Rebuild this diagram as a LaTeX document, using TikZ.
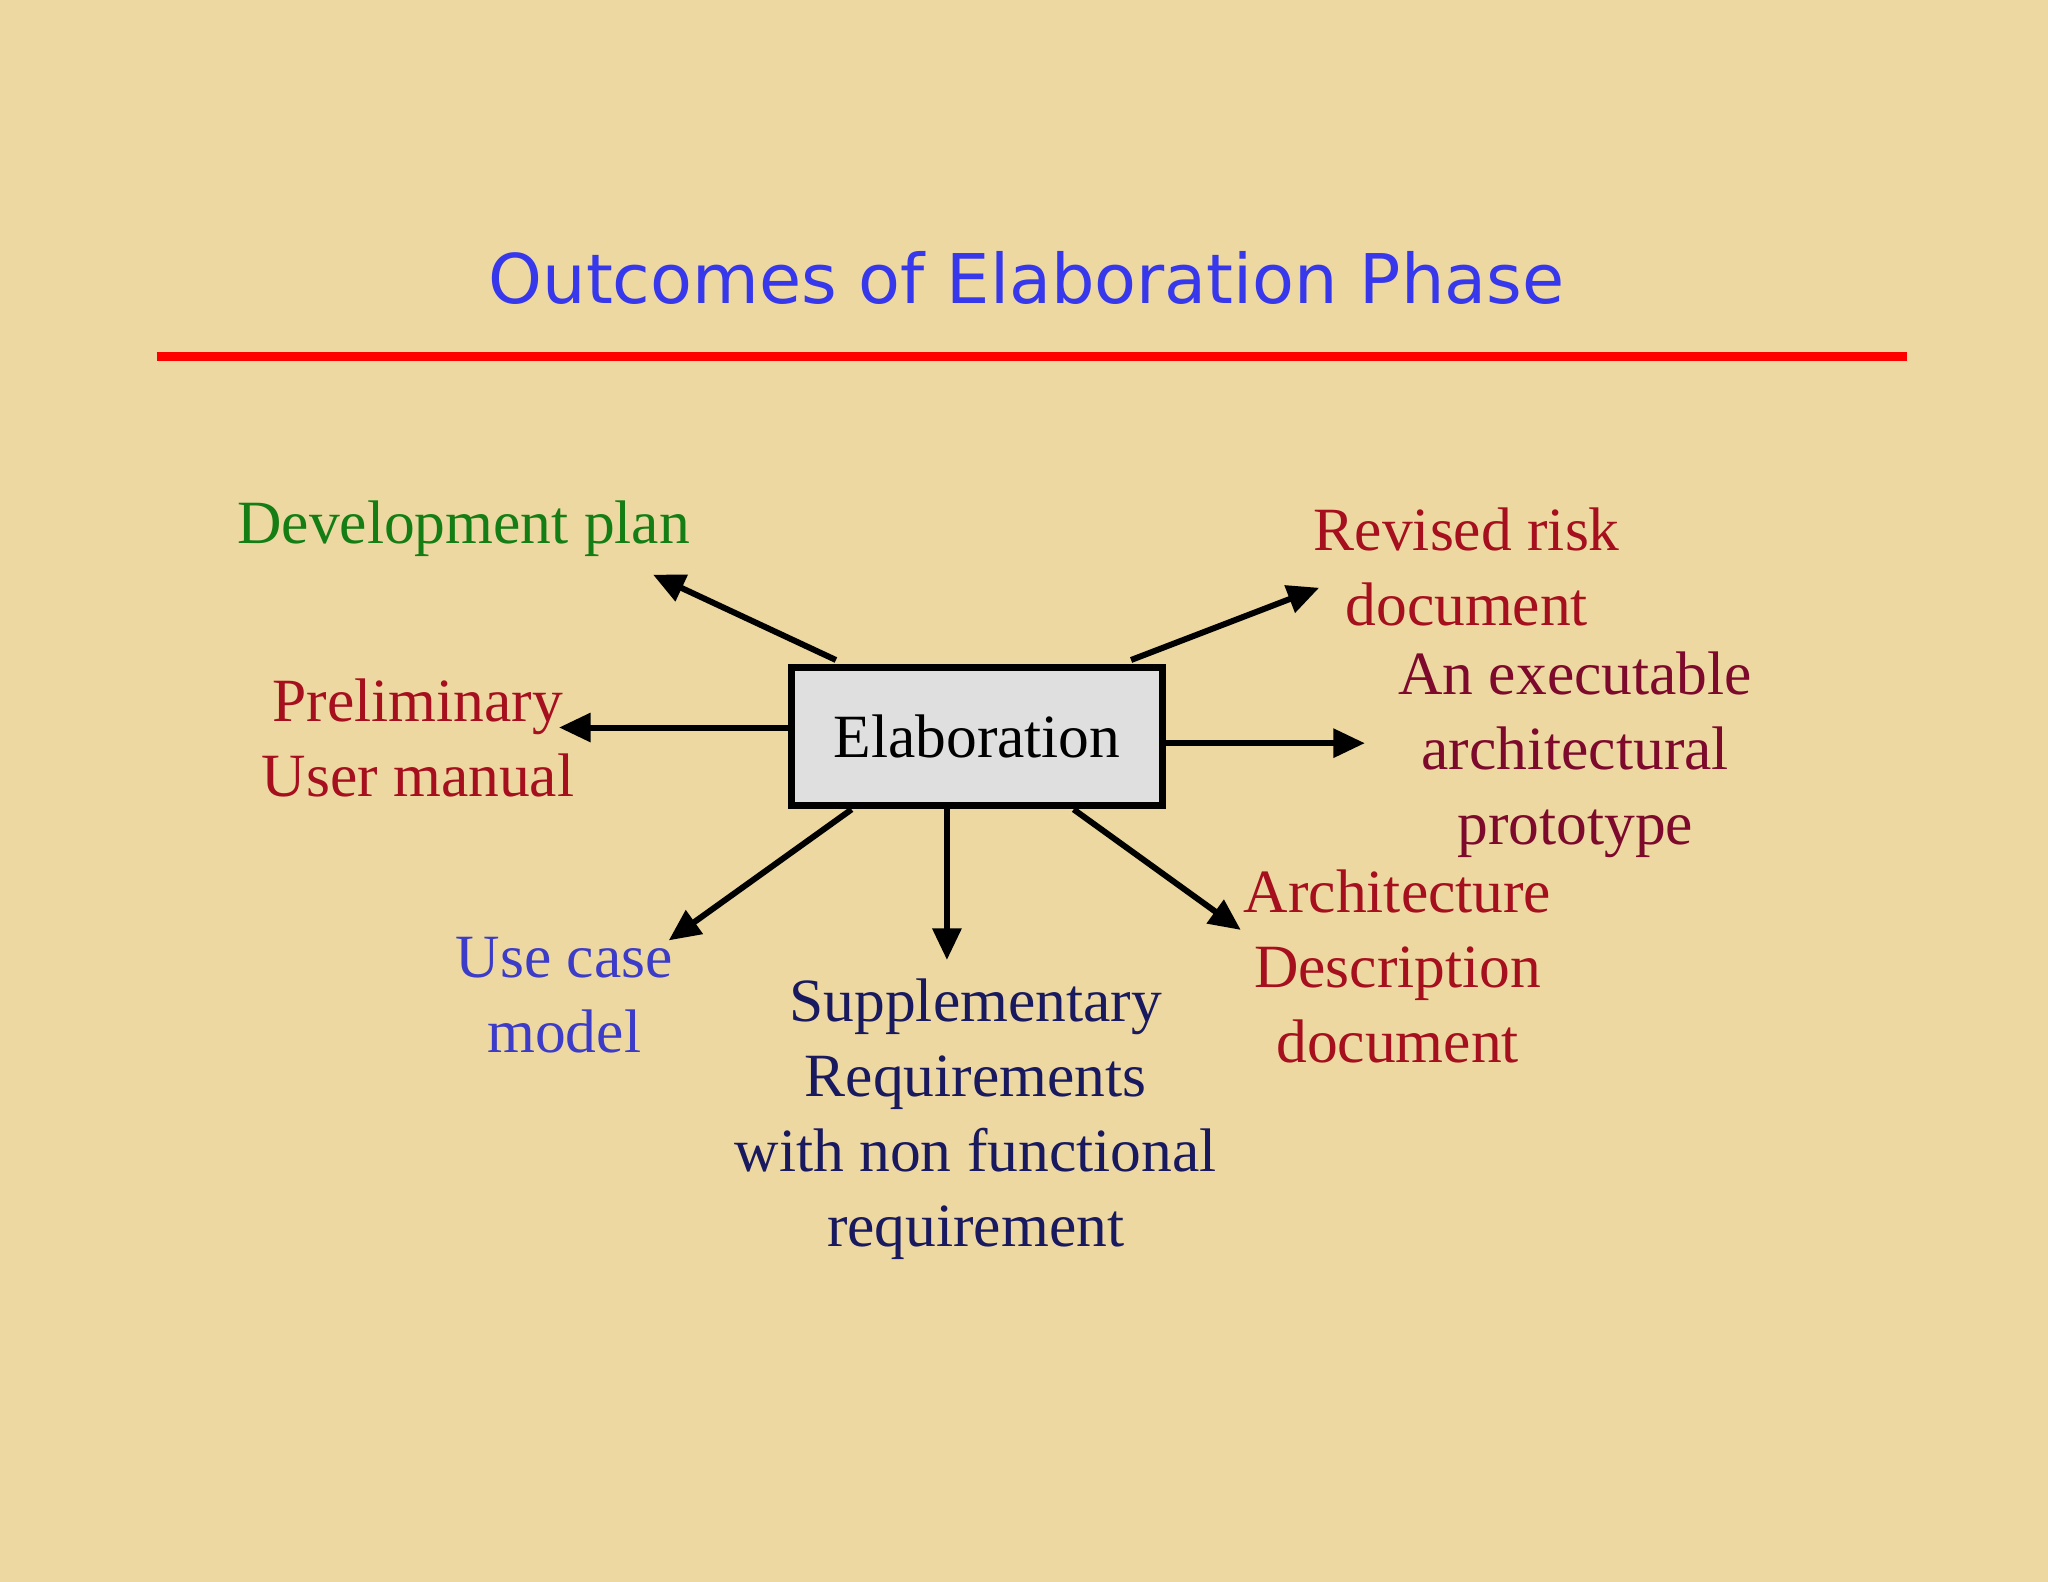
\documentclass[tikz,border=0pt]{standalone}
\usepackage{fontspec}
\setmainfont{Liberation Serif}
\newfontfamily\titlefont{DejaVu Sans}
\usetikzlibrary{arrows.meta}
\definecolor{bg}{RGB}{236,216,160}
\definecolor{tblue}{RGB}{55,55,235}
\definecolor{dgreen}{RGB}{20,125,20}
\definecolor{dred}{RGB}{165,15,30}
\definecolor{maroon}{RGB}{125,10,45}
\definecolor{ublue}{RGB}{60,60,200}
\definecolor{navy}{RGB}{25,25,95}
\begin{document}
\begin{tikzpicture}[x=0.01306cm,y=-0.01306cm,
  lbl/.style={align=center,font=\fontsize{17.5}{21.3}\selectfont,inner sep=0pt},
  arr/.style={-{Triangle[length=9pt,width=8pt]},line width=1.7pt}]
\fill[bg] (0,0) rectangle (1568,1211);
\useasboundingbox (0,0) rectangle (1568,1211);
\node[font=\titlefont\fontsize{19.5}{21}\selectfont,text=tblue] (title) at (786,213) {Outcomes of Elaboration Phase};
\draw[red,line width=2.6pt] (120,273) -- (1460,273);
\node[draw,line width=2pt,fill=gray!25,minimum width=284*0.01306cm,minimum height=106*0.01306cm,font=\fontsize{17.5}{20}\selectfont] (e) at (748,564) {Elaboration};
\node[lbl,text=dgreen] (dp) at (355,405) {Development plan};
\node[lbl,text=dred] (pum) at (320,565) {Preliminary\\User manual};
\node[lbl,text=ublue] (uc) at (432,762) {Use case\\model};
\node[lbl,text=navy] (sr) at (747,857) {Supplementary\\Requirements\\with non functional\\requirement};
\node[lbl,text=dred] (ad) at (1070,740) {Architecture\\Description\\document};
\node[lbl,text=maroon] (ex) at (1206,578) {An executable\\architectural\\prototype};
\node[lbl,text=dred] (rr) at (1123,434) {Revised risk\\document};
\coordinate (t1) at (500,440);
\coordinate (t2) at (428,557);
\coordinate (t3) at (512,720);
\coordinate (t4) at (725,735);
\coordinate (t5) at (950,712);
\coordinate (t6) at (1045,569);
\coordinate (t7) at (1010,450);
\draw[arr] (e.north west -| 640,0) ++(0,-3) -- (t1);
\draw[arr] (e.west |- 0,557) -- (t2);
\draw[arr] (e.south west -| 652,0) -- (t3);
\draw[arr] (e.south west -| 725,0) -- (t4);
\draw[arr] (e.south west -| 822,0) -- (t5);
\draw[arr] (e.east |- 0,569) -- (t6);
\draw[arr] (e.north west -| 866,0) ++(0,-3) -- (t7);
\end{tikzpicture}
\end{document}
